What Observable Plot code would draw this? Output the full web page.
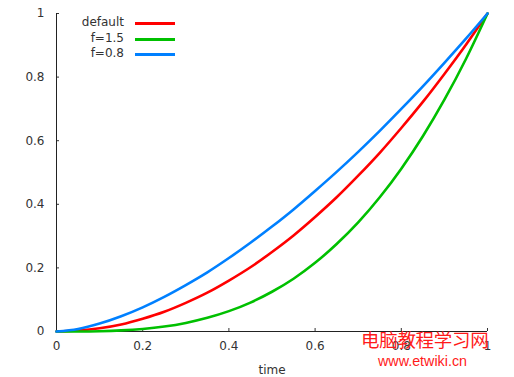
<!DOCTYPE html>
<html><head><meta charset="utf-8">
<script src="https://cdn.jsdelivr.net/npm/d3@7"></script>
<script src="https://cdn.jsdelivr.net/npm/@observablehq/plot@0.6"></script>
<style>
body{margin:0;background:#fff;}
#wrap{position:relative;width:514px;height:377px;font-family:"DejaVu Sans",sans-serif;}
#legend{position:absolute;left:0;top:0;font-size:12px;color:#333;}
.row{position:absolute;white-space:nowrap;}
.lbl{position:absolute;text-align:right;width:80px;}
.ln{position:absolute;height:3px;width:40px;}
#wm1{position:absolute;left:361px;top:330px;font-family:"Noto Sans CJK SC";font-size:18.5px;color:#ff1a1a;letter-spacing:-0.3px;line-height:1;}
#wm2{position:absolute;left:378px;top:354px;font-family:"Liberation Sans",Arial;font-size:14.3px;color:#ff1a1a;line-height:1;}
</style></head>
<body><div id="wrap"></div>
<script>
const times = [0,0.05,0.1,0.15,0.2,0.25,0.3,0.35,0.4,0.45,0.5,0.55,0.6,0.65,0.7,0.75,0.8,0.85,0.9,0.95,1];
const defaultVals = [0,0.003,0.01,0.022,0.04,0.062,0.09,0.122,0.16,0.202,0.25,0.302,0.36,0.422,0.49,0.562,0.64,0.722,0.81,0.902,1];
const f15Vals = [0,0.0001,0.001,0.0034,0.008,0.0156,0.027,0.043,0.064,0.091,0.125,0.166,0.216,0.275,0.343,0.422,0.512,0.614,0.729,0.857,1];
const f08Vals = [0,0.008,0.025,0.048,0.076,0.109,0.146,0.186,0.231,0.279,0.33,0.384,0.442,0.502,0.565,0.631,0.7,0.771,0.845,0.921,1];
const seriesNames = ["default","f=1.5","f=0.8"];
const seriesColors = ["#ff0000","#00c000","#0080ff"];
const xTicks = [0,0.2,0.4,0.6,0.8,1];
const yTicks = [0,0.2,0.4,0.6,0.8,1];

const allVals = [defaultVals, f15Vals, f08Vals];
const rows = [];
seriesNames.forEach((s,i)=>times.forEach((t,j)=>rows.push({t, v: allVals[i][j], s})));

const chart = Plot.plot({
  width: 514, height: 377,
  marginLeft: 56, marginRight: 27, marginTop: 13, marginBottom: 46,
  style: {fontFamily: "DejaVu Sans, sans-serif", fontSize: "12px", color: "#333", background: "#fff"},
  x: {domain: [0,1]},
  y: {domain: [0,1]},
  color: {domain: seriesNames, range: seriesColors},
  marks: [
    Plot.axisX({ticks: xTicks, tickSize: -3, tickPadding: 13, tickFormat: d => String(d), label: "time", labelAnchor: "center", labelArrow: "none", labelOffset: 42, fontSize: 12}),
    Plot.axisY({ticks: yTicks, tickSize: -3, tickPadding: 15, tickFormat: d => String(d), label: null, fontSize: 12}),
    Plot.ruleX([0], {stroke: "#222"}),
    Plot.ruleY([0], {stroke: "#222"}),
    Plot.line(rows, {x: "t", y: "v", z: "s", stroke: "s", strokeWidth: 2.6, curve: "monotone-x"})
  ]
});
const wrap = document.getElementById("wrap");
wrap.appendChild(chart);

const legend = document.createElement("div");
legend.id = "legend";
const rowTops = [15, 31, 46];
seriesNames.forEach((n,i)=>{
  const r = document.createElement("div"); r.className="row"; r.style.top = rowTops[i]+"px";
  const l = document.createElement("div"); l.className="lbl"; l.style.left="44px"; l.textContent=n;
  const ln = document.createElement("div"); ln.className="ln"; ln.style.left="135px"; ln.style.top="7px"; ln.style.background=seriesColors[i];
  r.appendChild(l); r.appendChild(ln); legend.appendChild(r);
});
wrap.appendChild(legend);
const w1 = document.createElement("div"); w1.id="wm1"; w1.textContent="电脑教程学习网"; wrap.appendChild(w1);
const w2 = document.createElement("div"); w2.id="wm2"; w2.textContent="www.etwiki.cn"; wrap.appendChild(w2);
</script></body></html>
